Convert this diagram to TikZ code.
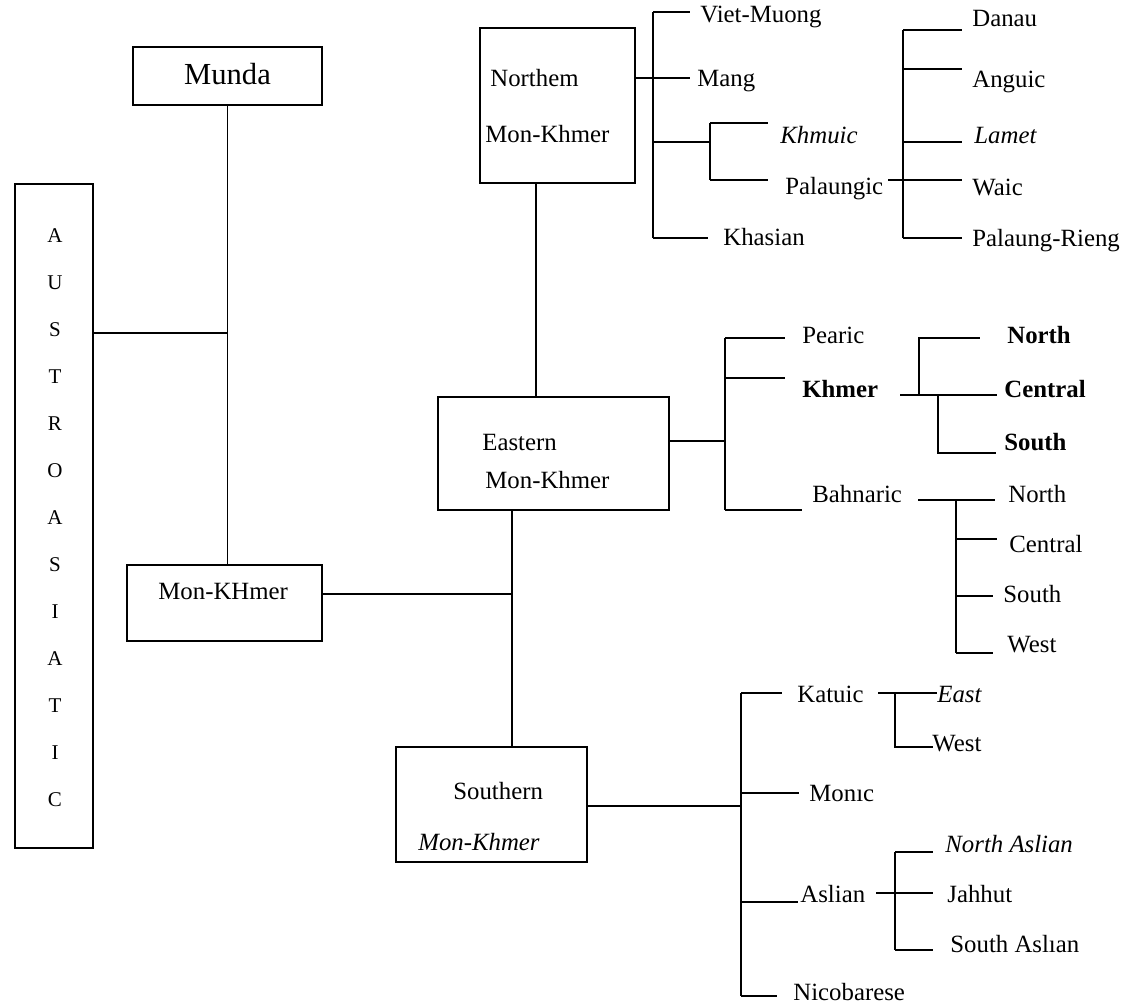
\documentclass[tikz,border=0pt]{standalone}
\usepackage{fontspec}
\setmainfont{Liberation Serif}
\newcommand{\labfont}{\fontsize{12.4}{14}\selectfont}
\begin{document}
\begin{tikzpicture}[x=0.5pt,y=-0.5pt,
  ln/.style={line width=0.9pt},
  box/.style={draw, line width=0.9pt, inner sep=0pt, outer sep=0pt},
  lbl/.style={anchor=base west, inner sep=0pt, font=\labfont},
  ctr/.style={anchor=base, inner sep=0pt},
  bf/.style={font=\labfont\bfseries},
  itl/.style={font=\labfont\itshape}]
\useasboundingbox[fill=white] (0,0) rectangle (1128,1006);

% ---------- boxes ----------
\node[box, minimum width=94.5pt, minimum height=29pt] (munda) at (227.5,76) {};
\node[box, minimum width=39pt, minimum height=332pt] (austro) at (54,516) {};
\node[box, minimum width=97.5pt, minimum height=38pt] (monkh) at (224.5,603) {};
\node[box, minimum width=77.5pt, minimum height=77.5pt] (northern) at (557.5,105.5) {};
\node[box, minimum width=115.5pt, minimum height=56.5pt] (eastern) at (553.5,453.5) {};
\node[box, minimum width=95.5pt, minimum height=57.5pt] (southern) at (491.5,804.5) {};

% ---------- box texts ----------
\node[ctr, font=\fontsize{15.3}{17}\selectfont] (tMunda) at (227.5,85) {Munda};
\foreach \L [count=\i from 0] in {A,U,S,T,R,O,A,S,I,A,T,I,C}
  \node[ctr, font=\fontsize{10.5}{12}\selectfont] (tA\i) at (55,242+47.08*\i) {\L};
\node[lbl] (tMK) at (158,599) {Mon-KHmer};
\node[lbl] (tN1) at (490,87) {Northem};
\node[lbl] (tN2) at (485,142) {Mon-Khmer};
\node[lbl] (tE1) at (482,450) {Eastern};
\node[lbl] (tE2) at (485,488) {Mon-Khmer};
\node[lbl] (tS1) at (453,799) {Southern};
\node[lbl, itl] (tS2) at (418,850) {Mon-Khmer};

% ---------- main connectors ----------
\coordinate (jA) at (227.5,333);
\coordinate (jM) at (512,594);
\coordinate (xNE) at (536,300);
\draw[ln] (munda.south) -- (munda.south |- monkh.north);
\draw[ln] (austro.east |- jA) -- (jA);
\draw[ln] (monkh.east |- jM) -- (jM);
\draw[ln] (eastern.south -| jM) -- (southern.north -| jM);
\draw[ln] (northern.south -| xNE) -- (eastern.north -| xNE);

% ---------- Northern Mon-Khmer ----------
\coordinate (nT) at (653,12);
\coordinate (nB) at (653,238);
\coordinate (eViet) at (690,12);
\coordinate (eMang) at (690,78);
\coordinate (kp) at (710,142);
\coordinate (kT) at (710,123);
\coordinate (kB) at (710,180);
\coordinate (eKhm) at (768,123);
\coordinate (ePal) at (768,180);
\coordinate (eKha) at (708,238);
\draw[ln] (nT) -- (nB);
\draw[ln] (nT) -- (eViet);
\draw[ln] (northern.east |- eMang) -- (eMang);
\draw[ln] (nT |- kp) -- (kp);
\draw[ln] (kT) -- (kB);
\draw[ln] (kT) -- (eKhm);
\draw[ln] (kB) -- (ePal);
\draw[ln] (nB) -- (eKha);
\node[lbl] (viet) at (700,23) {Viet-Muong};
\node[lbl] (mang) at (697,87) {Mang};
\node[lbl, itl] (khmuic) at (780,143) {Khmuic};
\node[lbl] (palaungic) at (785,194) {Palaungic};
\node[lbl] (khasian) at (723,245) {Khasian};

% Palaungic subtree
\coordinate (pT) at (903,30);
\coordinate (pB) at (903,238);
\coordinate (pIn) at (888,180);
\draw[ln] (pT) -- (pB);
\foreach \yy/\nm in {30/a,69/b,142/c,180/d,238/e}
  \draw[ln] (pT |- 0,\yy) coordinate (ps\nm) -- (962,\yy) coordinate (pe\nm);
\draw[ln] (pIn) -- (psd);
\node[lbl] (danau) at (972,27) {Danau};
\node[lbl] (anguic) at (972,88) {Anguic};
\node[lbl, itl] (lamet) at (974,143) {Lamet};
\node[lbl] (waic) at (972,195) {Waic};
\node[lbl] (palrieng) at (972,246) {Palaung-Rieng};

% ---------- Eastern Mon-Khmer ----------
\coordinate (eT) at (725,338);
\coordinate (eB) at (725,510);
\coordinate (eMid) at (725,441);
\draw[ln] (eastern.east |- eMid) -- (eMid);
\draw[ln] (eT) -- (eB);
\draw[ln] (eT) -- (785,338) coordinate (ePear);
\draw[ln] (eT |- 0,378) -- (785,378) coordinate (eKhmer);
\draw[ln] (eB) -- (802,510) coordinate (eBah);
\node[lbl] (pearic) at (802,343) {Pearic};
\node[lbl, bf] (khmer) at (802,397) {Khmer};
\node[lbl] (bahnaric) at (812,502) {Bahnaric};

% Khmer subtree
\coordinate (kh0) at (900,395);
\coordinate (kh1) at (919,395);
\coordinate (kh2) at (938,395);
\draw[ln] (kh0) -- (997,395) coordinate (eCen);
\draw[ln] (kh1) -- (919,338) -- (980,338) coordinate (eNor);
\draw[ln] (kh2) -- (938,453) -- (996,453) coordinate (eSou);
\node[lbl, bf] (knorth) at (1007,343) {North};
\node[lbl, bf] (kcentral) at (1004,397) {Central};
\node[lbl, bf] (ksouth) at (1004,450) {South};

% Bahnaric subtree
\coordinate (b0) at (918,500);
\coordinate (bT) at (956,500);
\coordinate (bB) at (956,653);
\draw[ln] (b0) -- (995,500) coordinate (bN);
\draw[ln] (bT) -- (bB);
\draw[ln] (bT |- 0,539) -- (997,539) coordinate (bC);
\draw[ln] (bT |- 0,596) -- (993,596) coordinate (bS);
\draw[ln] (bB) -- (993,653) coordinate (bW);
\node[lbl] (bnorth) at (1008,502) {North};
\node[lbl] (bcentral) at (1009,552) {Central};
\node[lbl] (bsouth) at (1003,602) {South};
\node[lbl] (bwest) at (1007,652) {West};

% ---------- Southern Mon-Khmer ----------
\coordinate (sT) at (741,693);
\coordinate (sB) at (741,996);
\coordinate (sMid) at (741,806);
\draw[ln] (southern.east |- sMid) -- (sMid);
\draw[ln] (sT) -- (sB);
\draw[ln] (sT) -- (782,693) coordinate (sKat);
\draw[ln] (sT |- 0,793) -- (799,793) coordinate (sMon);
\draw[ln] (sT |- 0,902) -- (798,902) coordinate (sAsl);
\draw[ln] (sB) -- (777,996) coordinate (sNic);
\node[lbl] (katuic) at (797,702) {Katuic};
\node[lbl] (monic) at (809,801) {Monıc};
\node[lbl] (aslian) at (800,902) {Aslian};
\node[lbl] (nicobarese) at (793,1000) {Nicobarese};

% Katuic subtree
\coordinate (kaT) at (895,693);
\coordinate (kaB) at (895,747);
\draw[ln] (878,693) coordinate (kaIn) -- (937,693) coordinate (kaE);
\draw[ln] (kaT) -- (kaB) -- (933,747) coordinate (kaW);
\node[lbl, itl] (east) at (937,702) {East};
\node[lbl] (west) at (932,751) {West};

% Aslian subtree
\coordinate (asT) at (895,852);
\coordinate (asB) at (895,950);
\draw[ln] (876,893) coordinate (asIn) -- (933,893) coordinate (asJ);
\draw[ln] (asT) -- (asB);
\draw[ln] (asT) -- (933,852) coordinate (asN);
\draw[ln] (asB) -- (933,950) coordinate (asS);
\node[lbl, itl] (naslian) at (945,852) {North Aslian};
\node[lbl] (jahhut) at (947,902) {Jahhut};
\node[lbl] (saslian) at (950,952) {South Aslıan};
\end{tikzpicture}
\end{document}
